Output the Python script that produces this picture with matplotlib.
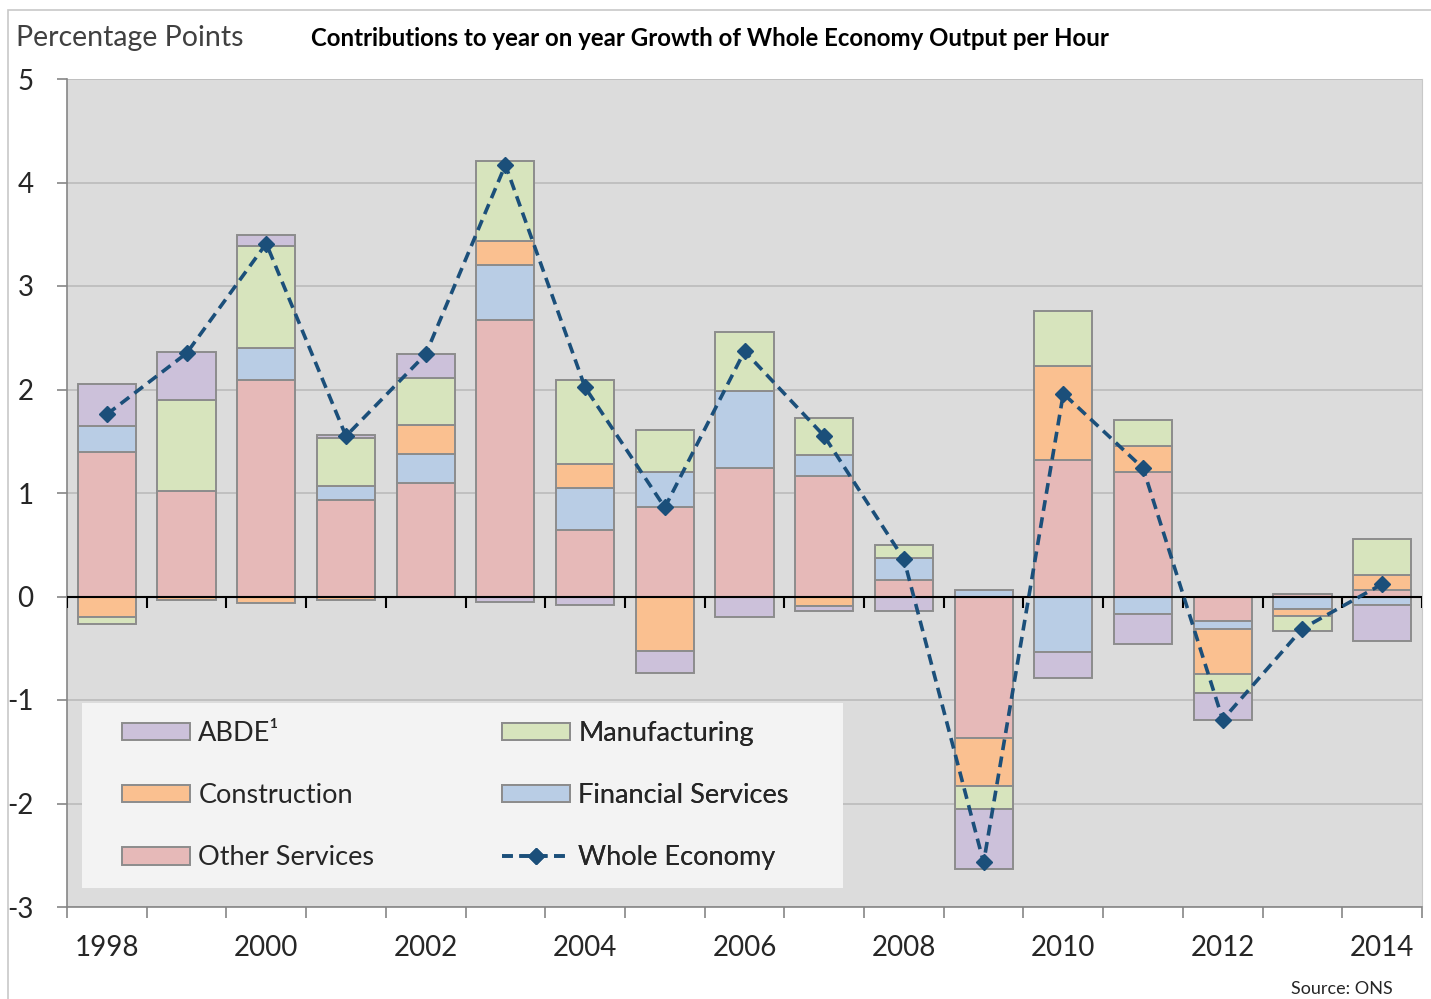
import matplotlib
matplotlib.use('Agg')
import matplotlib.pyplot as plt
import numpy as np
from matplotlib.patches import Patch, Rectangle
from matplotlib.lines import Line2D

plt.rcParams['font.family'] = ['Lato', 'DejaVu Sans']
plt.rcParams['axes.unicode_minus'] = False

# data (percentage points)
years = list(range(1998, 2015))
other_services = [1.40, 1.02, 2.09, 0.93, 1.10, 2.67, 0.64, 0.86, 1.24, 1.16, 0.155, -1.37, 1.32, 1.20, -0.24, 0.02, 0.06]
financial = [0.25, 0.0, 0.31, 0.14, 0.28, 0.53, 0.41, 0.34, 0.75, 0.21, 0.215, 0.06, -0.54, -0.165, -0.07, -0.12, -0.08]
construction = [-0.20, -0.03, -0.06, -0.03, 0.28, 0.23, 0.235, -0.53, 0.0, -0.09, 0.0, -0.465, 0.91, 0.25, -0.44, -0.07, 0.15]
manufacturing = [-0.07, 0.88, 0.99, 0.46, 0.45, 0.78, 0.805, 0.41, 0.57, 0.35, 0.13, -0.215, 0.53, 0.26, -0.18, -0.14, 0.35]
abde = [0.40, 0.46, 0.10, 0.03, 0.23, -0.05, -0.08, -0.21, -0.20, -0.05, -0.14, -0.58, -0.25, -0.295, -0.26, 0.0, -0.35]
whole_economy = [1.76, 2.35, 3.41, 1.55, 2.34, 4.17, 2.02, 0.86, 2.37, 1.55, 0.36, -2.57, 1.96, 1.24, -1.19, -0.31, 0.12]

series_names = ['Other Services', 'Financial Services', 'Construction', 'Manufacturing', 'ABDE¹']
series_vals = [other_services, financial, construction, manufacturing, abde]
series_cols = ['#E6B9B8', '#B9CDE5', '#FAC090', '#D7E4BD', '#CCC1DA']

edge = '#8C8C8C'
line_col = '#1B4F7A'
txt = '#262626'

fig = plt.figure(figsize=(14.31, 9.99), dpi=100)
ax = fig.add_axes([67 / 1431, 1 - 907 / 999, 1355 / 1431, 828 / 999])
ax.set_facecolor('#DCDCDC')

# outer chart frame
fig.patches.append(Rectangle((8 / 1431, -0.05), 1.1, 1.05 - 10 / 999, transform=fig.transFigure,
                             fill=False, edgecolor='#C8C8C8', linewidth=1.2))

x = np.arange(len(years))
pos_bottom = np.zeros(len(years))
neg_bottom = np.zeros(len(years))
for name, vals, col in zip(series_names, series_vals, series_cols):
    v = np.array(vals)
    bottoms = np.where(v >= 0, pos_bottom, neg_bottom)
    ax.bar(x, v, 0.73, bottom=bottoms, color=col, edgecolor=edge, linewidth=1.4, zorder=3)
    pos_bottom = pos_bottom + np.where(v >= 0, v, 0)
    neg_bottom = neg_bottom + np.where(v < 0, v, 0)

ax.plot(x, whole_economy, color=line_col, linestyle=(0, (3, 1.8)), linewidth=2.6,
        marker='D', markersize=8.5, zorder=5)

# zero axis line with tick marks between categories
ax.axhline(0, color='black', linewidth=1.5, zorder=4)
boundaries = np.arange(len(years) + 1) - 0.5
ax.vlines(boundaries, -0.11, 0, color='black', linewidth=1.5, zorder=4)

ax.set_xlim(-0.5, len(years) - 0.5)
ax.set_ylim(-3, 5)
ax.set_yticks(range(-3, 6))
ax.set_yticklabels([str(v) for v in range(-3, 6)])
ax.yaxis.grid(True, color='#BDBDBD', linewidth=1.3)
ax.set_axisbelow(True)
ax.tick_params(axis='y', length=7, width=1.2, color='#868686', labelsize=20, labelcolor=txt, pad=17)

ax.set_xticks(boundaries)
ax.set_xticklabels([])
ax.tick_params(axis='x', which='major', length=8, width=1.2, color='#868686')
ax.set_xticks(x[::2], minor=True)
ax.set_xticklabels([str(y) for y in years[::2]], minor=True)
ax.tick_params(axis='x', which='minor', length=0, labelsize=20, labelcolor=txt, pad=20)

for s in ['left', 'bottom']:
    ax.spines[s].set_color('#868686')
    ax.spines[s].set_linewidth(1.2)
ax.spines['top'].set_visible(False)
ax.spines['right'].set_color('#C8C8C8')

# legend: light panel with two columns of entries
ax.add_patch(Rectangle((15 / 1355, 19 / 828), 761 / 1355, 185 / 828, transform=ax.transAxes,
                       facecolor='#F3F3F3', edgecolor='none', zorder=6))
h = {n: Patch(facecolor=c, edgecolor=edge, linewidth=1.4) for n, c in zip(series_names, series_cols)}
line_h = Line2D([], [], color=line_col, linestyle=(0, (3, 1.8)), linewidth=2.6, marker='D', markersize=8.5)
leg_kw = dict(loc='upper left', fontsize=19.5, frameon=False, borderpad=0, borderaxespad=0,
              handlelength=2.52, handleheight=0.63, handletextpad=0.3, labelspacing=1.37)
cols = [(['ABDE¹', 'Construction', 'Other Services'], [h['ABDE¹'], h['Construction'], h['Other Services']], 122),
        (['Manufacturing', 'Financial Services', 'Whole Economy'], [h['Manufacturing'], h['Financial Services'], line_h], 502)]
for labels, handles, px in cols:
    leg = ax.legend(handles, labels, bbox_to_anchor=((px - 67) / 1355, (907 - 721) / 828), **leg_kw)
    for t in leg.get_texts():
        t.set_color(txt)
    leg.set_zorder(7)
    ax.add_artist(leg)

fig.text(16 / 1431, 1 - 38 / 999, 'Percentage Points', fontsize=20.5, color='#404040', va='center', ha='left')
fig.text(311 / 1431, 1 - 39 / 999, 'Contributions to year on year Growth of Whole Economy Output per Hour',
         fontsize=17.3, fontweight='bold', color='black', va='center', ha='left')
fig.text(1393 / 1431, 1 - 989 / 999, 'Source: ONS', fontsize=13, color=txt, va='center', ha='right')

fig.savefig('out.png', dpi=100)
